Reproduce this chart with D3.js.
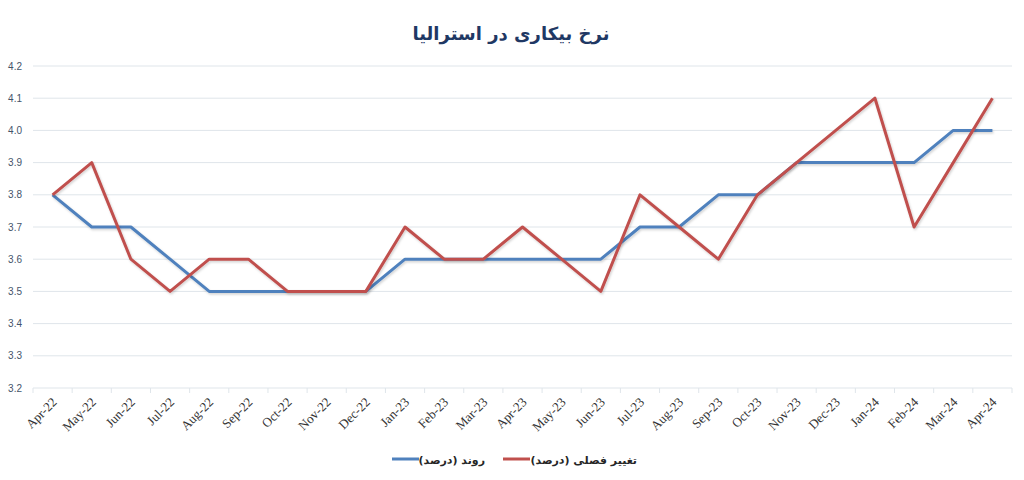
<!DOCTYPE html>
<html><head><meta charset="utf-8">
<script src="https://cdn.jsdelivr.net/npm/d3@7"></script>
<style>body{margin:0;background:#fff}svg{display:block}</style>
</head><body>
<svg id="c" width="1024" height="480"></svg>
<script>
const months = ["Apr-22","May-22","Jun-22","Jul-22","Aug-22","Sep-22","Oct-22","Nov-22","Dec-22","Jan-23","Feb-23","Mar-23","Apr-23","May-23","Jun-23","Jul-23","Aug-23","Sep-23","Oct-23","Nov-23","Dec-23","Jan-24","Feb-24","Mar-24","Apr-24"];
const trend = [3.8,3.7,3.7,3.6,3.5,3.5,3.5,3.5,3.5,3.6,3.6,3.6,3.6,3.6,3.6,3.7,3.7,3.8,3.8,3.9,3.9,3.9,3.9,4.0,4.0];
const seasonal = [3.8,3.9,3.6,3.5,3.6,3.6,3.5,3.5,3.5,3.7,3.6,3.6,3.7,3.6,3.5,3.8,3.7,3.6,3.8,3.9,4.0,4.1,3.7,3.9,4.1];
const yTicks = [3.2,3.3,3.4,3.5,3.6,3.7,3.8,3.9,4.0,4.1,4.2];
const titleText = "نرخ بیکاری در استرالیا";
const trendName = "روند (درصد)";
const seasonalName = "تغییر فصلی (درصد)";

const svg = d3.select("#c");
const L = 33, R = 1012, T = 66, B = 388;
const x = d3.scaleBand().domain(months).range([L, R]);
const y = d3.scaleLinear().domain([3.2, 4.2]).range([B, T]);

svg.append("text").attr("x", 511).attr("y", 40).attr("text-anchor", "middle")
  .attr("direction", "rtl")
  .attr("font-family", "DejaVu Sans").attr("font-weight", "bold").attr("font-size", 18)
  .attr("fill", "#1f3864").text(titleText);

// gridlines
svg.append("g").selectAll("line").data(yTicks).join("line")
  .attr("x1", L).attr("x2", R).attr("y1", d => y(d)).attr("y2", d => y(d))
  .attr("stroke", "#dfe5ea").attr("stroke-width", 1);

// y labels
svg.append("g").selectAll("text").data(yTicks).join("text")
  .attr("x", 22).attr("y", d => y(d) + 3.5).attr("text-anchor", "end")
  .attr("font-family", "Liberation Sans, Arial").attr("font-size", 10)
  .attr("fill", "#44546a").text(d => d.toFixed(1));

// x axis ticks
const ticks = months.map(m => x(m)).concat([R]);
svg.append("g").selectAll("line").data(ticks).join("line")
  .attr("x1", d => d).attr("x2", d => d).attr("y1", B).attr("y2", B + 5)
  .attr("stroke", "#dfe5ea");

// x labels
svg.append("g").selectAll("text").data(months).join("text")
  .attr("transform", d => `translate(${x(d) + x.bandwidth()/2 + 5},${B + 15}) rotate(-45)`)
  .attr("text-anchor", "end")
  .attr("font-family", "Liberation Serif, Times New Roman").attr("font-size", 13)
  .attr("fill", "#333").text(d => d);

const defs = svg.append("defs");
const f = defs.append("filter").attr("id", "sh").attr("x", "-5%").attr("y", "-5%").attr("width", "110%").attr("height", "115%");
f.append("feDropShadow").attr("dx", 1).attr("dy", 1.5).attr("stdDeviation", 1).attr("flood-color", "#000").attr("flood-opacity", 0.18);

const line = d3.line().x((d, i) => x(months[i]) + x.bandwidth()/2).y(d => y(d));
svg.append("path").datum(trend).attr("d", line).attr("fill", "none")
  .attr("stroke", "#4f81bd").attr("stroke-width", 3).attr("stroke-linejoin", "round").attr("filter", "url(#sh)");
svg.append("path").datum(seasonal).attr("d", line).attr("fill", "none")
  .attr("stroke", "#c0504d").attr("stroke-width", 3).attr("stroke-linejoin", "round").attr("filter", "url(#sh)");

// legend
const lg = svg.append("g");
const items = [{name: trendName, color: "#4f81bd", x0: 392, tx: 485}, {name: seasonalName, color: "#c0504d", x0: 503, tx: 637}];
items.forEach(it => {
  lg.append("line").attr("x1", it.x0).attr("x2", it.x0 + 27).attr("y1", 459).attr("y2", 459)
    .attr("stroke", it.color).attr("stroke-width", 3);
  lg.append("text").attr("x", it.tx).attr("y", 464).attr("text-anchor", "start")
    .attr("direction", "rtl")
    .attr("font-family", "DejaVu Sans").attr("font-weight", "bold").attr("font-size", 11)
    .attr("fill", "#262626").text(it.name);
});
</script>
</body></html>
